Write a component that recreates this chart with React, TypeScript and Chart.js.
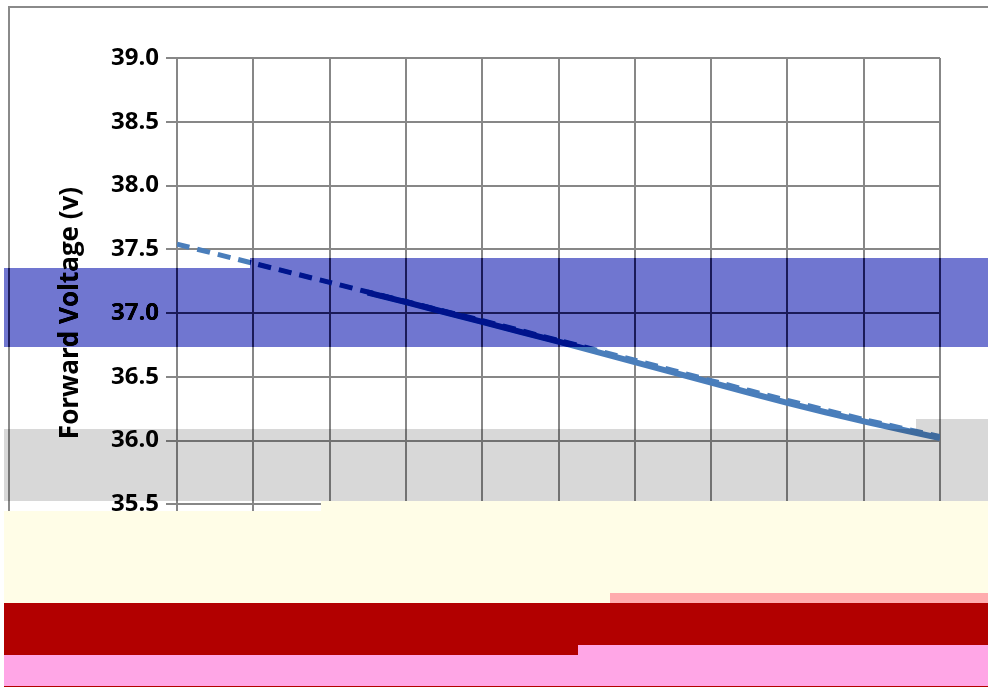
import React, { useEffect, useRef } from "react";
import { Chart, registerables } from "chart.js";

Chart.register(...registerables);

// Data
const dashedX = [0, 10, 20, 30, 40, 50, 60, 70, 80, 90, 100];
const dashedY = [37.54, 37.39, 37.24, 37.09, 36.94, 36.785, 36.63, 36.47, 36.315, 36.165, 36.03];
const solidX = [25, 30, 40, 50, 60, 70, 80, 90, 100];
const solidY = [37.16, 37.085, 36.93, 36.775, 36.615, 36.455, 36.295, 36.15, 36.02];
const xTicks = { min: 0, max: 100, step: 10 };
const yTicks = { min: 35, max: 39, step: 0.5 };
const yTitle = "Forward Voltage (v)";
const xTitle = "Tsp (°C)";

const W = 988;
const H = 687;
const FONT = "'Open Sans', 'Liberation Sans', sans-serif";
const GRID = "#878787";
const LINE = "#4A7EBB";

type R = [number, number, number, number];

const fillRects = (ctx: CanvasRenderingContext2D, rects: R[], color: string) => {
  ctx.fillStyle = color;
  rects.forEach(([x, y, w, h]) => ctx.fillRect(x, y, w, h));
};

const clipRects = (ctx: CanvasRenderingContext2D, rects: R[]) => {
  ctx.beginPath();
  rects.forEach(([x, y, w, h]) => ctx.rect(x, y, w, h));
  ctx.clip();
};

const backgroundPlugin = {
  id: "bgBorder",
  beforeDraw(chart: any) {
    const ctx: CanvasRenderingContext2D = chart.ctx;
    ctx.save();
    ctx.fillStyle = "#ffffff";
    ctx.fillRect(0, 0, W, H);
    ctx.strokeStyle = "#8a8a8a";
    ctx.lineWidth = 2;
    ctx.beginPath();
    ctx.moveTo(W, 7);
    ctx.lineTo(9, 7);
    ctx.lineTo(9, H);
    ctx.stroke();
    ctx.restore();
  },
};

const overlayPlugin = {
  id: "overlays",
  afterDraw(chart: any) {
    const ctx: CanvasRenderingContext2D = chart.ctx;
    // blue translucent band: out = s*bg - o
    const blue: R[] = [
      [4, 268, 246, 79],
      [250, 258, 738, 89],
    ];
    ctx.save();
    clipRects(ctx, blue);
    ctx.globalCompositeOperation = "multiply";
    fillRects(ctx, blue, "rgb(184,195,255)");
    ctx.globalCompositeOperation = "difference";
    fillRects(ctx, blue, "#ffffff");
    ctx.globalCompositeOperation = "lighter";
    fillRects(ctx, blue, "rgb(72,77,47)");
    ctx.globalCompositeOperation = "difference";
    fillRects(ctx, blue, "#ffffff");
    ctx.restore();

    // gray translucent band
    const gray: R[] = [
      [4, 429, 912, 72],
      [916, 419, 72, 82],
    ];
    ctx.save();
    clipRects(ctx, gray);
    ctx.globalCompositeOperation = "multiply";
    fillRects(ctx, gray, "rgb(216,216,216)");
    ctx.restore();

    // opaque bands
    ctx.save();
    fillRects(ctx, [
      [4, 511, 317, 92],
      [321, 501, 289, 102],
      [610, 501, 378, 92],
    ], "rgb(255,253,231)");
    fillRects(ctx, [[610, 593, 378, 10]], "rgb(255,172,174)");
    fillRects(ctx, [
      [4, 603, 574, 52],
      [578, 603, 410, 42],
    ], "rgb(178,0,0)");
    fillRects(ctx, [
      [4, 655, 574, 31],
      [578, 645, 410, 41],
    ], "rgb(255,166,230)");
    fillRects(ctx, [[4, 686, 984, 1]], "rgb(178,0,0)");
    ctx.restore();
  },
};

export default function App() {
  const ref = useRef<HTMLCanvasElement | null>(null);

  useEffect(() => {
    document.body.style.margin = "0";
    document.body.style.overflow = "hidden";
    if (!ref.current) return;
    const tickFont = { family: FONT, weight: "bold" as const, size: 24 };
    const chart = new Chart(ref.current, {
      type: "scatter",
      data: {
        datasets: [
          {
            label: "Extrapolated",
            data: dashedX.map((x, i) => ({ x, y: dashedY[i] })),
            showLine: true,
            borderColor: LINE,
            backgroundColor: LINE,
            borderWidth: 5,
            borderDash: [13, 8],
            pointRadius: 0,
            tension: 0.2,
          },
          {
            label: "Measured",
            data: solidX.map((x, i) => ({ x, y: solidY[i] })),
            showLine: true,
            borderColor: LINE,
            backgroundColor: LINE,
            borderWidth: 6,
            pointRadius: 0,
            tension: 0.2,
          },
        ],
      },
      options: {
        animation: false,
        responsive: false,
        devicePixelRatio: 1,
        layout: { padding: { left: 9, top: 58, right: 48, bottom: 0 } },
        plugins: {
          legend: { display: false },
          tooltip: { enabled: false },
        },
        scales: {
          x: {
            type: "linear",
            min: xTicks.min,
            max: xTicks.max,
            ticks: {
              stepSize: xTicks.step,
              font: tickFont,
              color: "#000",
              padding: 6,
              maxRotation: 0,
            },
            grid: { color: GRID, lineWidth: 2, tickLength: 10 },
            border: { color: GRID, width: 2 },
            title: {
              display: true,
              text: xTitle,
              color: "#000",
              font: { family: FONT, weight: "bold", size: 26 },
              padding: { top: 0, bottom: 31 },
            },
            afterFit: (s: any) => {
              s.height = 119;
            },
          },
          y: {
            type: "linear",
            min: yTicks.min,
            max: yTicks.max,
            ticks: {
              stepSize: yTicks.step,
              font: tickFont,
              color: "#000",
              padding: 7,
              callback: (v: any) => Number(v).toFixed(1),
            },
            grid: { color: GRID, lineWidth: 2, tickLength: 11 },
            border: { color: GRID, width: 2 },
            title: {
              display: true,
              text: yTitle,
              color: "#000",
              font: { family: FONT, weight: "bold", size: 26 },
              padding: { top: 46, bottom: 0 },
            },
            afterFit: (s: any) => {
              s.width = 168;
            },
          },
        },
      },
      plugins: [backgroundPlugin, overlayPlugin],
    });
    return () => chart.destroy();
  }, []);

  return (
    <div style={{ width: W, height: H, position: "relative" }}>
      <canvas ref={ref} width={W} height={H} style={{ display: "block", width: W, height: H }} />
    </div>
  );
}
